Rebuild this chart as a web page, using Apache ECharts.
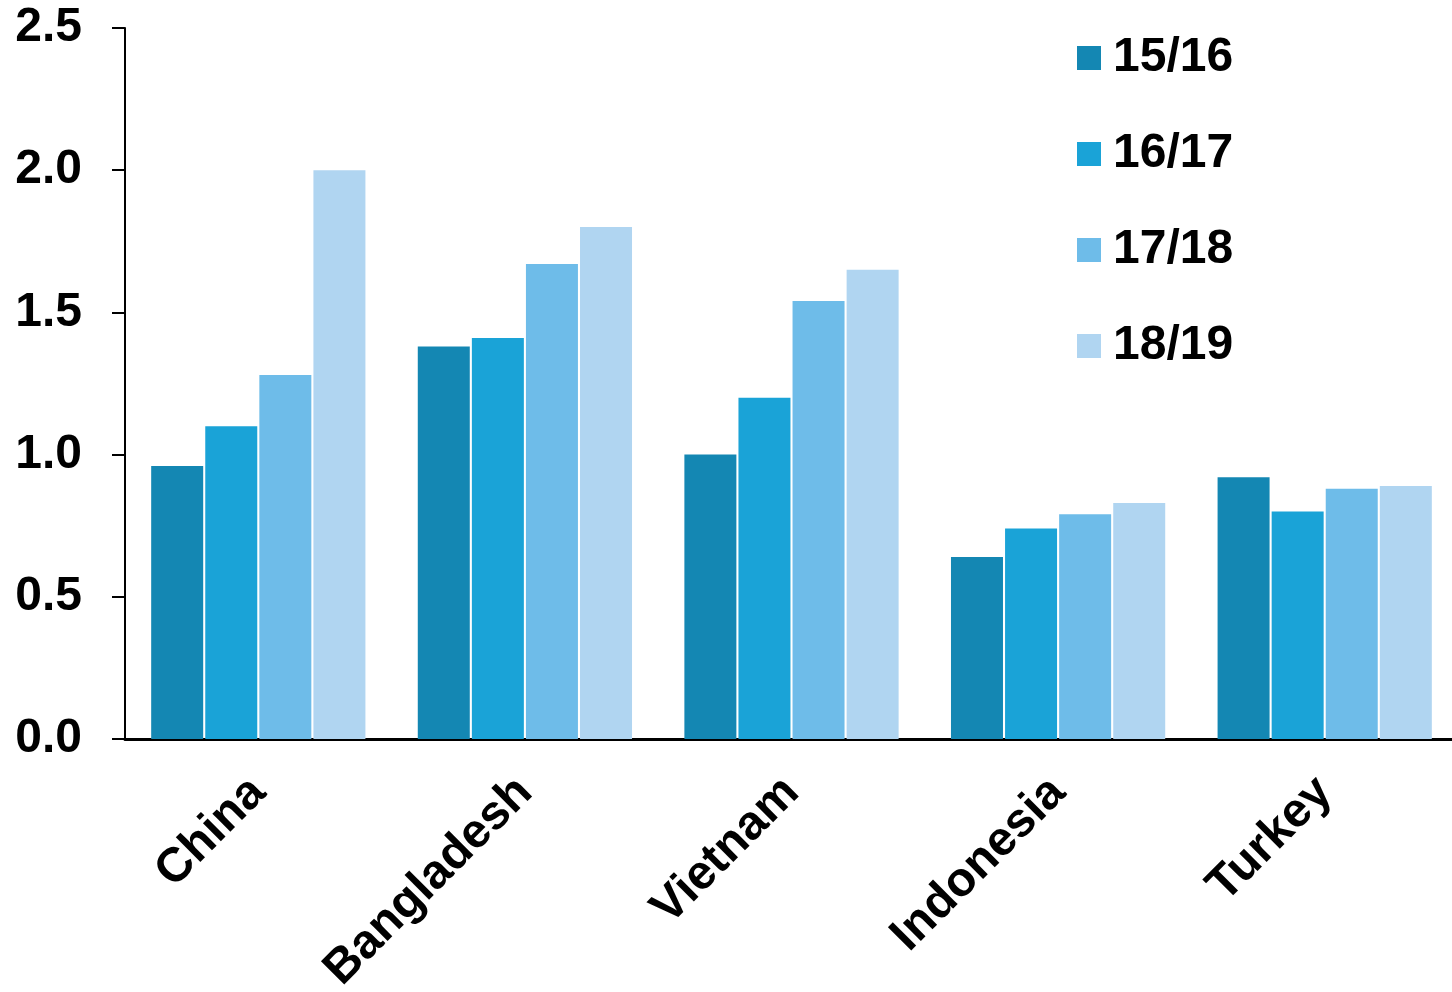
<!DOCTYPE html>
<html><head><meta charset="utf-8">
<script src="https://cdn.jsdelivr.net/npm/echarts@6/dist/echarts.min.js"></script>
<style>html,body{margin:0;padding:0;background:#fff}#c{width:1452px;height:992px}</style>
</head><body><div id="c"></div>
<script>
const categories = ['China', 'Bangladesh', 'Vietnam', 'Indonesia', 'Turkey'];
const seriesNames = ['15/16', '16/17', '17/18', '18/19'];
const s1516 = [0.96, 1.38, 1.00, 0.64, 0.92];
const s1617 = [1.10, 1.41, 1.20, 0.74, 0.80];
const s1718 = [1.28, 1.67, 1.54, 0.79, 0.88];
const s1819 = [2.00, 1.80, 1.65, 0.83, 0.89];
const colors = ['#1487b3', '#1aa3d7', '#6ebce9', '#b0d5f1'];
const values = [s1516, s1617, s1718, s1819];
const font = '"Liberation Sans", Arial, sans-serif';

const chart = echarts.init(document.getElementById('c'));
chart.setOption({
  animation: false,
  grid: { left: 125, width: 1333, top: 28, bottom: 253, containLabel: false, outerBoundsMode: 'none' },
  legend: {
    orient: 'vertical', left: 1077, top: 34, padding: 0,
    itemWidth: 24, itemHeight: 24, itemGap: 48,
    icon: 'rect',
    textStyle: { fontFamily: font, fontWeight: 'bold', fontSize: 48, color: '#000', padding: [0, 0, 0, 7] },
    data: seriesNames
  },
  xAxis: {
    type: 'category', data: categories,
    axisLine: { lineStyle: { color: '#000', width: 3 } },
    axisTick: { show: false },
    axisLabel: { rotate: 45, margin: 46, fontFamily: font, fontWeight: 'bold', fontSize: 48, color: '#000', interval: 0 }
  },
  yAxis: {
    type: 'value', min: 0, max: 2.5, interval: 0.5,
    axisLine: { show: true, lineStyle: { color: '#000', width: 2 } },
    axisTick: { show: true, length: 13, lineStyle: { color: '#000', width: 2 } },
    splitLine: { show: false },
    axisLabel: { margin: 43, fontFamily: font, fontWeight: 'bold', fontSize: 48, color: '#000', formatter: v => v.toFixed(1) }
  },
  series: seriesNames.map((n, i) => ({
    name: n, type: 'bar', data: values[i], barWidth: 52, barGap: '4%',
    itemStyle: { color: colors[i] }
  }))
});
</script></body></html>
